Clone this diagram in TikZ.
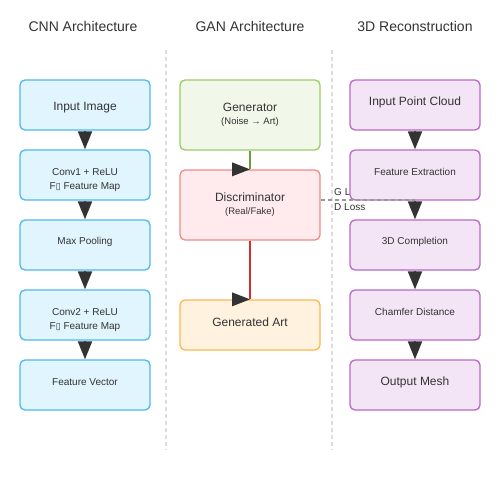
\documentclass[tikz,border=0pt]{standalone}
\usepackage{fontspec}
\setmainfont{Liberation Sans}
\newfontfamily\djv{DejaVu Sans}
\usetikzlibrary{arrows.meta}
\definecolor{txtc}{HTML}{333333}
\definecolor{headc}{HTML}{333333}
\definecolor{sepc}{HTML}{DDDDDD}
\definecolor{cnnfill}{HTML}{E1F5FE}
\definecolor{cnndraw}{HTML}{4FB8EE}
\definecolor{cnnline}{HTML}{0288D1}
\definecolor{genfill}{HTML}{F1F8E9}
\definecolor{gendraw}{HTML}{9CCC65}
\definecolor{genline}{HTML}{689F38}
\definecolor{disfill}{HTML}{FFEBEE}
\definecolor{disdraw}{HTML}{EF8A8A}
\definecolor{disline}{HTML}{D32F2F}
\definecolor{artfill}{HTML}{FFF3E0}
\definecolor{artdraw}{HTML}{FFB74D}
\definecolor{recfill}{HTML}{F3E5F5}
\definecolor{recdraw}{HTML}{BA68C8}
\definecolor{recline}{HTML}{9C27B0}
\definecolor{lossc}{HTML}{999999}
\begin{document}
\begin{tikzpicture}[x=1pt,y=-1pt,
  title/.style={text=txtc,font=\fontsize{14}{16}\selectfont,inner sep=0pt,yshift=-1pt},
  boxbase/.style={line width=1.3pt,rounded corners=5pt,inner sep=0pt,minimum width=130pt,minimum height=50pt},
  cnnbox/.style={boxbase,draw=cnndraw,fill=cnnfill},
  ganbox/.style={boxbase,minimum width=140pt},
  recbox/.style={boxbase,draw=recdraw,fill=recfill},
  big/.style={text=txtc,font=\fontsize{12}{14}\selectfont,inner sep=0pt,yshift=-1.5pt},
  small/.style={text=txtc,font=\fontsize{10}{12}\selectfont,inner sep=0pt,yshift=-1.2pt},
  tiny/.style={text=txtc,font=\fontsize{9.5}{11}\selectfont,inner sep=0pt,yshift=-1.2pt},
  sepline/.style={draw=sepc,line width=1.2pt,dash pattern=on 4pt off 3pt},
  cnnarrow/.style={draw=cnnline,line width=2pt,-{Triangle[length=18pt,width=14pt,color=headc]}},
  recarrow/.style={draw=recline,line width=2pt,-{Triangle[length=18pt,width=14pt,color=headc]}},
  lossline/.style={draw=lossc,line width=1.3pt,dash pattern=on 4pt off 3pt}
]
\useasboundingbox (0,0) rectangle (500,500);
\fill[white] (0,0) rectangle (500,500);
\newcommand\tofu{{\djv\fontsize{9}{10}\selectfont ▯}}

% titles
\node[title] (t1) at (83,25) {CNN Architecture};
\node[title] (t2) at (250,25) {GAN Architecture};
\node[title] (t3) at (415,25) {3D Reconstruction};

% separators
\draw[sepline] (166,50) -- (166,450);
\draw[sepline] (332,50) -- (332,450);

% loss labels (behind boxes)
\node[small,anchor=west] (gloss) at (334,191) {G Loss};
\node[small,anchor=west] (dloss) at (334,206) {D Loss};

% CNN column
\node[cnnbox] (c1) at (85,105) {};
\node[cnnbox] (c2) at (85,175) {};
\node[cnnbox] (c3) at (85,245) {};
\node[cnnbox] (c4) at (85,315) {};
\node[cnnbox] (c5) at (85,385) {};
\node[big] at (85,106) {Input Image};
\node[small] at (85,171) {Conv1 + ReLU};
\node[small] at (85,186) {F\tofu\ Feature Map};
\node[small] at (85,241) {Max Pooling};
\node[small] at (85,311) {Conv2 + ReLU};
\node[small] at (85,326) {F\tofu\ Feature Map};
\node[small] at (85,381) {Feature Vector};

% GAN column
\node[ganbox,draw=gendraw,fill=genfill,minimum height=70pt] (gen) at (250,115) {};
\node[ganbox,draw=disdraw,fill=disfill,minimum height=70pt] (disc) at (250,205) {};
\node[ganbox,draw=artdraw,fill=artfill] (art) at (250,325) {};
\node[big] at (250,106) {Generator};
\node[tiny] at (250,121) {(Noise → Art)};
\node[big] at (250,196) {Discriminator};
\node[tiny] at (250,211) {(Real/Fake)};
\node[big] at (250,321) {Generated Art};

% 3D column
\node[recbox] (r1) at (415,105) {};
\node[recbox] (r2) at (415,175) {};
\node[recbox] (r3) at (415,245) {};
\node[recbox] (r4) at (415,315) {};
\node[recbox] (r5) at (415,385) {};
\node[big] at (415,101) {Input Point Cloud};
\node[small] at (415,171) {Feature Extraction};
\node[small] at (415,241) {3D Completion};
\node[small] at (415,311) {Chamfer Distance};
\node[big] at (415,381) {Output Mesh};

% GAN connectors
\draw[draw=genline,line width=2pt] (gen.south) -- (disc.north);
\draw[draw=disline,line width=2pt] (disc.south) -- (art.north);
\coordinate (lossend) at (415,200);
\draw[lossline] (disc.east |- lossend) -- (lossend);
\fill[headc] (disc.north) -- ++(-18,-7) -- ++(0,14) -- cycle;
\fill[headc] (art.north) -- ++(-18,-7) -- ++(0,14) -- cycle;

% CNN connectors
\draw[cnnarrow] (c1.south) -- (c2.north);
\draw[cnnarrow] (c2.south) -- (c3.north);
\draw[cnnarrow] (c3.south) -- (c4.north);
\draw[cnnarrow] (c4.south) -- (c5.north);

% 3D connectors
\draw[recarrow] (r1.south) -- (r2.north);
\draw[recarrow] (r2.south) -- (r3.north);
\draw[recarrow] (r3.south) -- (r4.north);
\draw[recarrow] (r4.south) -- (r5.north);
\end{tikzpicture}
\end{document}
